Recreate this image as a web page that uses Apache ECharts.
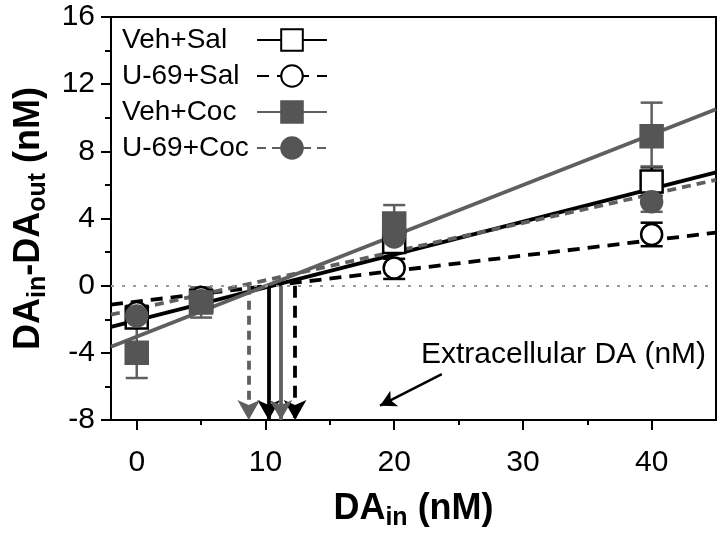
<!DOCTYPE html>
<html>
<head>
<meta charset="utf-8">
<script src="https://cdn.jsdelivr.net/npm/echarts@6/dist/echarts.min.js"></script>
<style>html,body{margin:0;padding:0;background:#fff;}#c{width:720px;height:536px;}</style>
</head>
<body>
<div id="c"></div>
<script>
// ---- data ----
const seriesNames = ['Veh+Sal', 'U-69+Sal', 'Veh+Coc', 'U-69+Coc'];
const doses = [0, 5, 20, 40];
const vehSal = [-1.9, -0.9, 2.6, 6.2];
const vehSalLo = [-2.4, -1.3, 2.0, 5.35];
const vehSalHi = [-1.4, -0.5, 3.2, 7.05];
const u69Sal = [-1.6, -0.7, 1.05, 3.05];
const u69SalLo = [-2.0, -1.0, 0.4, 2.35];
const u69SalHi = [-1.2, -0.4, 1.6, 3.75];
const vehCoc = [-4.0, -1.0, 3.7, 8.9];
const vehCocLo = [-5.5, -1.9, 2.6, 7.1];
const vehCocHi = [-2.5, -0.1, 4.8, 10.9];
const u69Coc = [-1.8, -0.9, 2.9, 5.0];
const u69CocLo = [-2.1, -1.2, 2.4, 4.4];
const u69CocHi = [-1.5, -0.6, 3.4, 5.6];
// regression lines: values at the ends of the x range
const fitX = [-2, 45];
const vehSalFit = [-2.45, 6.75];
const u69SalFit = [-1.13, 3.16];
const vehCocFit = [-3.64, 10.5];
const u69CocFit = [-1.73, 6.3];
// x positions of the vertical "intercept" arrows (per series)
const crossX = [10.25, 12.3, 11.2, 8.7];
// axis ticks
const xMajorTicks = [0, 10, 20, 30, 40];
const xMinorTicks = [5, 15, 25, 35];
const yTicks = [-8, -4, 0, 4, 8, 12, 16];
// annotation arrow (from, to) for "Extracellular DA (nM)"
const annoFrom = [23.7, -5.27];
const annoTo = [18.9, -7.15];
const annoText = 'Extracellular DA (nM)';

const FONT = '"Liberation Sans", Arial, Helvetica, sans-serif';
const GRAY = '#555555';
const GRAY_LINE = '#5f5f5f';

const styles = [
  {symbol: 'rect', size: 22, fill: '#ffffff', border: '#000', line: '#000', type: 'solid', err: '#000'},
  {symbol: 'circle', size: 21, fill: '#ffffff', border: '#000', line: '#000', type: [12, 8], err: '#000'},
  {symbol: 'rect', size: 22, fill: GRAY, border: GRAY, line: GRAY_LINE, type: 'solid', err: GRAY_LINE},
  {symbol: 'circle', size: 21, fill: GRAY, border: GRAY, line: GRAY_LINE, type: [9, 6], err: GRAY_LINE}
];
const means = [vehSal, u69Sal, vehCoc, u69Coc];
const lows = [vehSalLo, u69SalLo, vehCocLo, u69CocLo];
const highs = [vehSalHi, u69SalHi, vehCocHi, u69CocHi];
const fits = [vehSalFit, u69SalFit, vehCocFit, u69CocFit];

const chart = echarts.init(document.getElementById('c'), null, {renderer: 'canvas'});

const series = [];
seriesNames.forEach((name, i) => {
  const st = styles[i];
  series.push({
    name: name,
    type: 'line',
    xAxisIndex: 0,
    data: fitX.map((x, k) => [x, fits[i][k]]),
    symbol: st.symbol,
    symbolSize: st.size,
    showSymbol: false,
    silent: true,
    z: 2,
    lineStyle: {color: st.line, width: 3.8, type: st.type},
    itemStyle: {color: st.fill, borderColor: st.border, borderWidth: 2.5},
    markLine: {
      silent: true,
      symbol: ['none', 'arrow'],
      symbolSize: [17, 20],
      label: {show: false},
      lineStyle: {color: st.line, width: 3.8, type: st.type},
      data: [[{coord: [crossX[i], 0]}, {coord: [crossX[i], -8]}]]
    }
  });
  series.push({
    name: name + ' err',
    type: 'custom',
    xAxisIndex: 0,
    z: 3,
    silent: true,
    data: doses.map((d, k) => [d, lows[i][k], highs[i][k]]),
    renderItem: function (params, api) {
      const x = api.value(0);
      const p1 = api.coord([x, api.value(1)]);
      const p2 = api.coord([x, api.value(2)]);
      const w = 11;
      const s = {stroke: st.err, lineWidth: 2.5};
      return {type: 'group', children: [
        {type: 'line', shape: {x1: p1[0], y1: p1[1], x2: p2[0], y2: p2[1]}, style: s},
        {type: 'line', shape: {x1: p1[0] - w, y1: p1[1], x2: p1[0] + w, y2: p1[1]}, style: s},
        {type: 'line', shape: {x1: p2[0] - w, y1: p2[1], x2: p2[0] + w, y2: p2[1]}, style: s}
      ]};
    }
  });
  series.push({
    name: name + ' pts',
    type: 'scatter',
    xAxisIndex: 0,
    z: 5,
    silent: true,
    symbol: st.symbol,
    symbolSize: st.size,
    itemStyle: {color: st.fill, borderColor: st.border, borderWidth: 2.5, opacity: 1},
    data: doses.map((d, k) => [d, means[i][k]])
  });
});

series.push({
  name: 'ref',
  type: 'line',
  xAxisIndex: 0,
  data: [],
  silent: true,
  z: 1,
  markLine: {
    silent: true,
    symbol: ['none', 'none'],
    label: {show: false},
    lineStyle: {color: '#9a9a9a', width: 2, type: [3, 8]},
    data: [{yAxis: 0}]
  }
});
series.push({
  name: 'anno',
  type: 'line',
  xAxisIndex: 0,
  data: [],
  silent: true,
  z: 6,
  markLine: {
    silent: true,
    symbol: ['none', 'arrow'],
    symbolSize: [13, 16],
    label: {show: false},
    lineStyle: {color: '#000', width: 2.5, type: 'solid'},
    data: [[{coord: annoFrom}, {coord: annoTo}]]
  }
});

const titleRich = {
  b: {fontSize: 36, fontWeight: 'bold', color: '#000', fontFamily: FONT},
  s: {fontSize: 25, fontWeight: 'bold', color: '#000', fontFamily: FONT, padding: [18, 0, 0, 0]}
};

const option = {
  animation: false,
  backgroundColor: '#fff',
  textStyle: {fontFamily: FONT},
  grid: {left: 111, top: 17, right: 4, bottom: 115, show: true, borderColor: '#000', borderWidth: 2, backgroundColor: 'transparent'},
  legend: {
    orient: 'vertical',
    left: 117,
    top: 21,
    align: 'right',
    itemWidth: 70,
    itemHeight: 27,
    itemGap: 8,
    selectedMode: false,
    data: seriesNames,
    formatter: function (name) { return '{a|' + name + '}'; },
    textStyle: {
      fontFamily: FONT, fontSize: 28, color: '#000', padding: 0,
      rich: {a: {fontFamily: FONT, fontSize: 28, color: '#000', width: 130, align: 'left'}}
    }
  },
  xAxis: [
    {
      type: 'value', min: -2, max: 45, position: 'bottom',
      axisLine: {show: true, onZero: false, lineStyle: {color: '#000', width: 2}},
      axisTick: {show: true, inside: false, length: 10, lineStyle: {color: '#000', width: 2}, customValues: xMajorTicks},
      axisLabel: {show: true, margin: 28, fontSize: 30, color: '#000', fontFamily: FONT, customValues: xMajorTicks},
      splitLine: {show: false},
      name: '{b|DA}{s|in}{b| (nM)}',
      nameLocation: 'middle',
      nameGap: 68,
      nameTextStyle: {rich: titleRich}
    },
    {
      type: 'value', min: -2, max: 45, position: 'bottom',
      axisLine: {show: false, onZero: false},
      axisTick: {show: true, inside: false, length: 5, lineStyle: {color: '#000', width: 2}, customValues: xMinorTicks},
      axisLabel: {show: false},
      splitLine: {show: false}
    }
  ],
  yAxis: {
    type: 'value', min: yTicks[0], max: yTicks[yTicks.length - 1], interval: 4,
    axisLine: {show: true, onZero: false, lineStyle: {color: '#000', width: 2}},
    axisTick: {show: true, inside: false, length: 10, lineStyle: {color: '#000', width: 2}},
    minorTick: {show: true, splitNumber: 2, length: 6, lineStyle: {color: '#000', width: 2}},
    axisLabel: {margin: 16, fontSize: 30, color: '#000', fontFamily: FONT},
    splitLine: {show: false},
    name: '{b|DA}{s|in}{b|-DA}{s|out}{b| (nM)}',
    nameLocation: 'middle',
    nameGap: 60,
    nameRotate: 90,
    nameTextStyle: {rich: titleRich}
  },
  graphic: [
    {type: 'text', left: 421, top: 340, silent: true,
     style: {text: annoText, fontSize: 30, fontFamily: FONT, fill: '#000'}}
  ],
  series: series
};
chart.setOption(option);
</script>
</body>
</html>
